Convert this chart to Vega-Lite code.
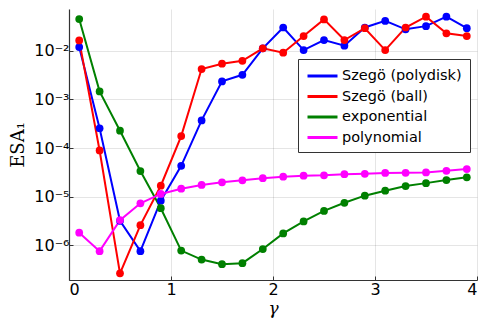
{
  "$schema": "https://vega.github.io/schema/vega-lite/v6.json",
  "autosize": "none",
  "width": 408,
  "height": 271,
  "padding": {"left": 69, "top": 9, "right": 11, "bottom": 46},
  "background": "white",
  "config": {"view": {"stroke": null}, "font": "DejaVu Sans"},
  "datasets": {
    "d": [
      {"s": "Szegö (polydisk)", "g": 0.1, "v": 0.0119},
      {"s": "Szegö (polydisk)", "g": 0.3, "v": 0.000255},
      {"s": "Szegö (polydisk)", "g": 0.5, "v": 0.0000032},
      {"s": "Szegö (polydisk)", "g": 0.7, "v": 0.00000076},
      {"s": "Szegö (polydisk)", "g": 0.9, "v": 0.0000083},
      {"s": "Szegö (polydisk)", "g": 1.1, "v": 0.000043},
      {"s": "Szegö (polydisk)", "g": 1.3, "v": 0.00037},
      {"s": "Szegö (polydisk)", "g": 1.5, "v": 0.00234},
      {"s": "Szegö (polydisk)", "g": 1.7, "v": 0.0032},
      {"s": "Szegö (polydisk)", "g": 1.9, "v": 0.0112},
      {"s": "Szegö (polydisk)", "g": 2.1, "v": 0.030},
      {"s": "Szegö (polydisk)", "g": 2.3, "v": 0.0103},
      {"s": "Szegö (polydisk)", "g": 2.5, "v": 0.0166},
      {"s": "Szegö (polydisk)", "g": 2.7, "v": 0.0127},
      {"s": "Szegö (polydisk)", "g": 2.9, "v": 0.030},
      {"s": "Szegö (polydisk)", "g": 3.1, "v": 0.041},
      {"s": "Szegö (polydisk)", "g": 3.3, "v": 0.0275},
      {"s": "Szegö (polydisk)", "g": 3.5, "v": 0.032},
      {"s": "Szegö (polydisk)", "g": 3.7, "v": 0.050},
      {"s": "Szegö (polydisk)", "g": 3.9, "v": 0.029},
      {"s": "Szegö (ball)", "g": 0.1, "v": 0.0163},
      {"s": "Szegö (ball)", "g": 0.3, "v": 0.000089},
      {"s": "Szegö (ball)", "g": 0.5, "v": 0.000000266},
      {"s": "Szegö (ball)", "g": 0.7, "v": 0.0000026},
      {"s": "Szegö (ball)", "g": 0.9, "v": 0.0000168},
      {"s": "Szegö (ball)", "g": 1.1, "v": 0.000176},
      {"s": "Szegö (ball)", "g": 1.3, "v": 0.0042},
      {"s": "Szegö (ball)", "g": 1.5, "v": 0.0054},
      {"s": "Szegö (ball)", "g": 1.7, "v": 0.0062},
      {"s": "Szegö (ball)", "g": 1.9, "v": 0.0112},
      {"s": "Szegö (ball)", "g": 2.1, "v": 0.0091},
      {"s": "Szegö (ball)", "g": 2.3, "v": 0.020},
      {"s": "Szegö (ball)", "g": 2.5, "v": 0.044},
      {"s": "Szegö (ball)", "g": 2.7, "v": 0.0166},
      {"s": "Szegö (ball)", "g": 2.9, "v": 0.029},
      {"s": "Szegö (ball)", "g": 3.1, "v": 0.0103},
      {"s": "Szegö (ball)", "g": 3.3, "v": 0.030},
      {"s": "Szegö (ball)", "g": 3.5, "v": 0.050},
      {"s": "Szegö (ball)", "g": 3.7, "v": 0.0228},
      {"s": "Szegö (ball)", "g": 3.9, "v": 0.020},
      {"s": "exponential", "g": 0.1, "v": 0.0448},
      {"s": "exponential", "g": 0.3, "v": 0.00146},
      {"s": "exponential", "g": 0.5, "v": 0.000227},
      {"s": "exponential", "g": 0.7, "v": 0.0000337},
      {"s": "exponential", "g": 0.9, "v": 0.0000058},
      {"s": "exponential", "g": 1.1, "v": 0.00000078},
      {"s": "exponential", "g": 1.3, "v": 0.00000051},
      {"s": "exponential", "g": 1.5, "v": 0.00000041},
      {"s": "exponential", "g": 1.7, "v": 0.00000043},
      {"s": "exponential", "g": 1.9, "v": 0.00000084},
      {"s": "exponential", "g": 2.1, "v": 0.00000176},
      {"s": "exponential", "g": 2.3, "v": 0.0000031},
      {"s": "exponential", "g": 2.5, "v": 0.0000051},
      {"s": "exponential", "g": 2.7, "v": 0.0000075},
      {"s": "exponential", "g": 2.9, "v": 0.0000105},
      {"s": "exponential", "g": 3.1, "v": 0.0000133},
      {"s": "exponential", "g": 3.3, "v": 0.0000165},
      {"s": "exponential", "g": 3.5, "v": 0.000019},
      {"s": "exponential", "g": 3.7, "v": 0.000022},
      {"s": "exponential", "g": 3.9, "v": 0.000025},
      {"s": "polynomial", "g": 0.1, "v": 0.00000182},
      {"s": "polynomial", "g": 0.3, "v": 0.00000076},
      {"s": "polynomial", "g": 0.5, "v": 0.0000033},
      {"s": "polynomial", "g": 0.7, "v": 0.0000073},
      {"s": "polynomial", "g": 0.9, "v": 0.0000114},
      {"s": "polynomial", "g": 1.1, "v": 0.0000146},
      {"s": "polynomial", "g": 1.3, "v": 0.0000174},
      {"s": "polynomial", "g": 1.5, "v": 0.0000197},
      {"s": "polynomial", "g": 1.7, "v": 0.0000217},
      {"s": "polynomial", "g": 1.9, "v": 0.000024},
      {"s": "polynomial", "g": 2.1, "v": 0.0000257},
      {"s": "polynomial", "g": 2.3, "v": 0.000027},
      {"s": "polynomial", "g": 2.5, "v": 0.0000275},
      {"s": "polynomial", "g": 2.7, "v": 0.000029},
      {"s": "polynomial", "g": 2.9, "v": 0.0000296},
      {"s": "polynomial", "g": 3.1, "v": 0.0000307},
      {"s": "polynomial", "g": 3.3, "v": 0.000031},
      {"s": "polynomial", "g": 3.5, "v": 0.0000315},
      {"s": "polynomial", "g": 3.7, "v": 0.000034},
      {"s": "polynomial", "g": 3.9, "v": 0.000037}
    ]
  },
  "data": {"name": "d"},
  "encoding": {
    "x": {
      "field": "g", "type": "quantitative",
      "scale": {"domain": [0, 4], "nice": false, "zero": false},
      "axis": {
        "values": [0, 1, 2, 3, 4], "format": "d",
        "title": "γ", "titleFont": "DejaVu Serif", "titleFontStyle": "italic", "titleFontWeight": "normal", "titleFontSize": 17, "titlePadding": 3, "titleColor": "#000",
        "labelFontSize": 16, "labelColor": "#000", "labelPadding": 5, "labelFont": "DejaVu Sans",
        "domainColor": "#333", "domainWidth": 1.2, "tickColor": "#333", "tickSize": -4, "tickWidth": 1,
        "grid": true, "gridColor": "#000", "gridOpacity": 0.1, "gridWidth": 1
      }
    },
    "y": {
      "field": "v", "type": "quantitative",
      "scale": {"type": "log", "domain": [1.94e-7, 0.072], "nice": false},
      "axis": {
        "values": [0.000001, 0.00001, 0.0001, 0.001, 0.01],
        "labelExpr": "'10' + (round(log(datum.value)/LN10) == -2 ? '⁻²' : round(log(datum.value)/LN10) == -3 ? '⁻³' : round(log(datum.value)/LN10) == -4 ? '⁻⁴' : round(log(datum.value)/LN10) == -5 ? '⁻⁵' : '⁻⁶')",
        "title": "ESA₁", "titleFont": "DejaVu Serif", "titleFontWeight": "normal", "titleFontSize": 18, "titlePadding": 6, "titleColor": "#000",
        "labelFontSize": 16, "labelColor": "#000", "labelPadding": 4, "labelFont": "DejaVu Sans",
        "domainColor": "#333", "domainWidth": 1.2, "tickColor": "#333", "tickSize": -4, "tickWidth": 1,
        "grid": true, "gridColor": "#000", "gridOpacity": 0.1, "gridWidth": 1
      }
    },
    "color": {
      "field": "s", "type": "nominal",
      "scale": {"domain": ["Szegö (polydisk)", "Szegö (ball)", "exponential", "polynomial"], "range": ["#0000ff", "#ff0000", "#008000", "#ff00ff"]},
      "legend": {
        "title": null, "orient": "none", "legendX": 229, "legendY": 50,
        "symbolType": "M-1,0H3", "symbolSize": 225, "symbolStrokeWidth": 3,
        "labelFontSize": 14.5, "labelColor": "#000", "labelFont": "DejaVu Sans", "labelOffset": 18,
        "strokeColor": "#333", "fillColor": "white", "padding": 8, "rowPadding": 4.5,
        "labelLimit": 300
      }
    }
  },
  "layer": [
    {"mark": {"type": "line", "strokeWidth": 2, "clip": true}},
    {"mark": {"type": "circle", "size": 60, "opacity": 1, "clip": true}}
  ]
}
